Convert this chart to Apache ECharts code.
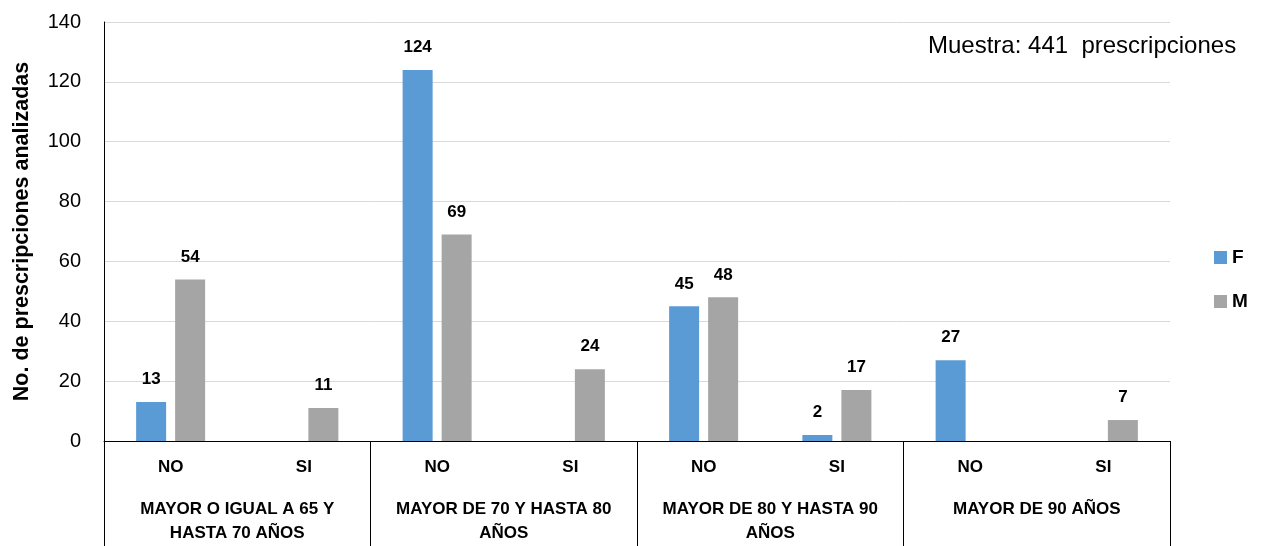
<!DOCTYPE html>
<html>
<head>
<meta charset="utf-8">
<script src="https://cdn.jsdelivr.net/npm/echarts@6/dist/echarts.min.js"></script>
<style>
  html, body { margin: 0; padding: 0; background: #fff; }
  #chart { width: 1262px; height: 546px; }
</style>
</head>
<body>
<div id="chart"></div>
<script>
// Sub-categories (one per bar slot) and the age groups they belong to
const subCategories = ['NO', 'SI', 'NO', 'SI', 'NO', 'SI', 'NO', 'SI'];
const ageGroups = [
  'MAYOR O IGUAL A 65 Y\nHASTA 70 AÑOS',
  'MAYOR DE 70 Y HASTA 80\nAÑOS',
  'MAYOR DE 80 Y HASTA 90\nAÑOS',
  'MAYOR DE 90 AÑOS'
];
// Prescriptions by sex
const valuesF = [13, null, 124, null, 45, 2, 27, null];
const valuesM = [54, 11, 69, 24, 48, 17, null, 7];
const yTicks = { min: 0, max: 140, interval: 20 };
const sampleNote = 'Muestra: 441  prescripciones';

const FONT = '"Liberation Sans", Arial, sans-serif';
const chart = echarts.init(document.getElementById('chart'));

const labelStyle = {
  show: true,
  position: 'top',
  distance: 14,
  fontFamily: FONT,
  fontWeight: 'bold',
  fontSize: 17,
  color: '#000'
};

chart.setOption({
  animation: false,
  backgroundColor: '#fff',
  grid: { left: 104, right: 92, top: 22, bottom: 105, containLabel: false },
  legend: {
    orient: 'vertical',
    left: 1209,
    top: 243,
    itemWidth: 13,
    itemHeight: 13,
    itemGap: 25,
    icon: 'rect',
    textStyle: { fontFamily: FONT, fontWeight: 'bold', fontSize: 19, color: '#000' },
    data: ['F', 'M']
  },
  xAxis: [
    {
      type: 'category',
      data: subCategories,
      position: 'bottom',
      axisLine: { show: true, lineStyle: { color: '#000', width: 1 } },
      axisTick: { show: false },
      axisLabel: { interval: 0, fontFamily: FONT, fontWeight: 'bold', fontSize: 17, color: '#000', margin: 18 },
      splitLine: { show: false }
    },
    {
      type: 'category',
      data: ageGroups,
      position: 'bottom',
      axisLine: { show: false },
      axisTick: { show: true, interval: 0, length: 106, lineStyle: { color: '#000', width: 1 } },
      axisLabel: {
        interval: 0, hideOverlap: false,
        fontFamily: FONT, fontWeight: 'bold', fontSize: 17, color: '#000',
        margin: 56, lineHeight: 24, align: 'center'
      },
      splitLine: { show: false }
    }
  ],
  yAxis: {
    type: 'value',
    min: yTicks.min,
    max: yTicks.max,
    interval: yTicks.interval,
    name: 'No. de prescripciones analizadas',
    nameLocation: 'middle',
    nameGap: 71,
    nameTextStyle: { fontFamily: FONT, fontWeight: 'bold', fontSize: 21.5, color: '#000' },
    axisLine: { show: true, lineStyle: { color: '#000', width: 1 } },
    axisTick: { show: false },
    axisLabel: { fontFamily: FONT, fontSize: 20, color: '#000', margin: 23 },
    splitLine: { show: true, lineStyle: { color: '#d9d9d9', width: 1 } }
  },
  series: [
    {
      name: 'F',
      type: 'bar',
      xAxisIndex: 0,
      data: valuesF,
      barWidth: 30,
      barGap: '30%',
      itemStyle: { color: '#5B9BD5' },
      label: labelStyle
    },
    {
      name: 'M',
      type: 'bar',
      xAxisIndex: 0,
      data: valuesM,
      barWidth: 30,
      barGap: '30%',
      itemStyle: { color: '#A5A5A5' },
      label: labelStyle
    }
  ],
  graphic: [
    {
      type: 'text',
      left: 928,
      top: 34,
      style: {
        text: sampleNote,
        fontFamily: FONT,
        fontSize: 24,
        fill: '#000'
      }
    }
  ]
});
</script>
</body>
</html>
